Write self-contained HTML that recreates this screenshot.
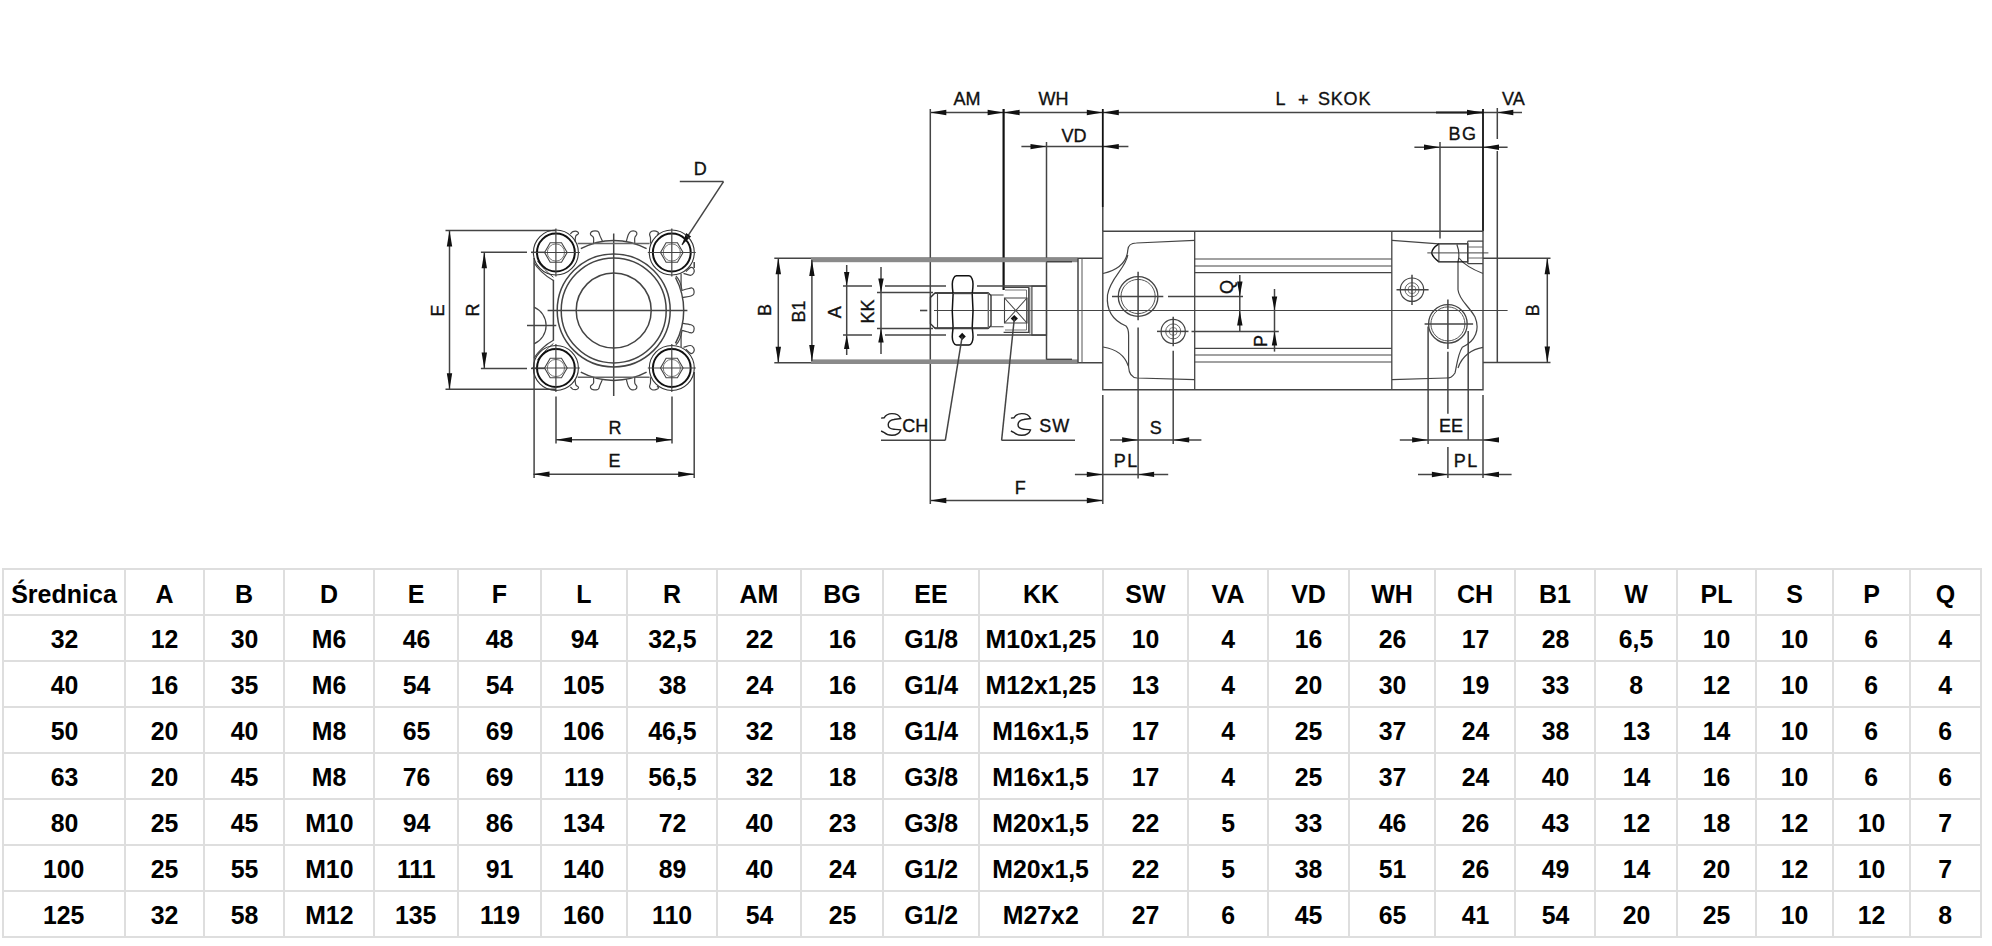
<!DOCTYPE html>
<html><head><meta charset="utf-8">
<style>
html,body{margin:0;padding:0;background:#fff;}
body{width:1992px;height:946px;position:relative;overflow:hidden;font-family:"Liberation Sans",sans-serif;}
.gl{position:absolute;background:#dedede;}
.c{position:absolute;display:flex;align-items:center;justify-content:center;font-weight:bold;font-size:26px;color:#000;white-space:nowrap;box-sizing:border-box;padding-top:2px;}
.c span{display:inline-block;transform:scaleX(0.955);}
.c.h{font-size:25px;padding-top:4px;}
.c.h span{transform:none;}
svg{position:absolute;left:0;top:0;}
svg text{font-family:"Liberation Sans",sans-serif;fill:#111;stroke:#111;stroke-width:0.35px;}
</style></head><body>
<svg width="1992" height="946" viewBox="0 0 1992 946" stroke-linecap="butt">
<line x1="445.5" y1="230.5" x2="556" y2="230.5" stroke="#444" stroke-width="1.5" />
<line x1="445.5" y1="389.3" x2="556" y2="389.3" stroke="#444" stroke-width="1.5" />
<line x1="449.5" y1="230.5" x2="449.5" y2="389.3" stroke="#444" stroke-width="1.5" />
<path d="M449.5,230.5 L452.2,246.5 L446.8,246.5 Z" fill="#111"/>
<path d="M449.5,389.3 L446.8,373.3 L452.2,373.3 Z" fill="#111"/>
<line x1="480.9" y1="252.3" x2="527" y2="252.3" stroke="#444" stroke-width="1.5" />
<line x1="531" y1="252.3" x2="545" y2="252.3" stroke="#444" stroke-width="1.5" />
<line x1="480.9" y1="368.4" x2="527" y2="368.4" stroke="#444" stroke-width="1.5" />
<line x1="531" y1="368.4" x2="545" y2="368.4" stroke="#444" stroke-width="1.5" />
<line x1="484.3" y1="252.3" x2="484.3" y2="368.4" stroke="#444" stroke-width="1.5" />
<path d="M484.3,252.3 L487.0,268.3 L481.6,268.3 Z" fill="#111"/>
<path d="M484.3,368.4 L481.6,352.4 L487.0,352.4 Z" fill="#111"/>
<line x1="534.1" y1="258" x2="534.1" y2="478" stroke="#444" stroke-width="1.5" />
<line x1="694.2" y1="372" x2="694.2" y2="478" stroke="#444" stroke-width="1.5" />
<line x1="694.2" y1="262" x2="694.2" y2="268" stroke="#444" stroke-width="1.5" />
<line x1="556" y1="396.6" x2="556" y2="443.6" stroke="#444" stroke-width="1.5" />
<line x1="672" y1="396.6" x2="672" y2="443.6" stroke="#444" stroke-width="1.5" />
<line x1="556" y1="439.8" x2="672" y2="439.8" stroke="#444" stroke-width="1.5" />
<path d="M556.0,439.8 L572.0,437.1 L572.0,442.5 Z" fill="#111"/>
<path d="M672.0,439.8 L656.0,442.5 L656.0,437.1 Z" fill="#111"/>
<line x1="533.5" y1="474.3" x2="694.2" y2="474.3" stroke="#444" stroke-width="1.5" />
<path d="M533.5,474.3 L549.5,471.6 L549.5,477.0 Z" fill="#111"/>
<path d="M694.2,474.3 L678.2,477.0 L678.2,471.6 Z" fill="#111"/>
<line x1="679.8" y1="181.6" x2="723.5" y2="181.6" stroke="#444" stroke-width="1.5" />
<line x1="723.5" y1="181.6" x2="682" y2="244.8" stroke="#444" stroke-width="1.5" />
<path d="M682.0,244.8 L686.1,233.1 L691.1,236.5 Z" fill="#111"/>
<circle cx="613.7" cy="310.4" r="37.5" fill="none" stroke="#444" stroke-width="1.5"/>
<circle cx="613.7" cy="310.4" r="52.5" fill="none" stroke="#444" stroke-width="1.5"/>
<circle cx="613.7" cy="310.4" r="56.5" fill="none" stroke="#444" stroke-width="1.5"/>
<path d="M646.6,248.6 A70,70 0 0 0 580.8,248.6" fill="none" stroke="#444" stroke-width="1.5"/>
<path d="M580.8,372.2 A70,70 0 0 0 646.6,372.2" fill="none" stroke="#444" stroke-width="1.5"/>
<path d="M675.5,343.3 A70,70 0 0 0 675.5,277.5" fill="none" stroke="#444" stroke-width="1.5"/>
<line x1="613.7" y1="233.5" x2="613.7" y2="396" stroke="#444" stroke-width="1.5" />
<line x1="547.6" y1="310.4" x2="687.4" y2="310.4" stroke="#444" stroke-width="1.5" />
<line x1="577.7" y1="243.5" x2="649.6" y2="243.5" stroke="#666" stroke-width="1.5" />
<line x1="577.7" y1="377.3" x2="649.6" y2="377.3" stroke="#666" stroke-width="1.5" />
<path d="M575.0,241.5 C575.1,240.6 575.3,237.3 575.8,236.1 C576.3,234.9 577.5,234.7 578.0,234.2 C578.5,233.7 578.7,233.4 578.5,232.9 C578.3,232.4 577.5,231.5 576.6,231.3 C575.7,231.1 574.0,231.2 572.9,231.6 C571.8,232.0 570.7,233.6 570.3,234.0" fill="none" stroke="#444" stroke-width="1.2"/>
<path d="M575.0,379.3 C575.1,380.2 575.3,383.5 575.8,384.7 C576.3,385.9 577.5,386.1 578.0,386.6 C578.5,387.1 578.7,387.4 578.5,387.9 C578.3,388.4 577.5,389.3 576.6,389.5 C575.7,389.7 574.0,389.6 572.9,389.2 C571.8,388.7 570.7,387.2 570.3,386.8" fill="none" stroke="#444" stroke-width="1.2"/>
<path d="M593.5,243.5 C593.5,242.5 594.0,239.1 593.5,237.7 C593.0,236.2 591.0,235.7 590.6,234.8 C590.2,233.9 590.5,233.0 590.9,232.4 C591.3,231.8 592.0,231.3 593.0,231.1 C594.0,230.9 596.2,230.9 597.2,231.1 C598.2,231.3 598.3,231.7 598.8,232.4 C599.2,233.2 599.3,234.1 599.9,235.6 C600.5,237.1 602.1,240.4 602.5,241.4" fill="none" stroke="#444" stroke-width="1.2"/>
<path d="M593.5,377.3 C593.5,378.3 594.0,381.6 593.5,383.1 C593.0,384.5 591.0,385.1 590.6,386.0 C590.2,386.9 590.5,387.8 590.9,388.4 C591.3,389.0 592.0,389.5 593.0,389.7 C594.0,389.9 596.2,389.9 597.2,389.7 C598.2,389.5 598.3,389.1 598.8,388.4 C599.2,387.6 599.3,386.7 599.9,385.2 C600.5,383.7 602.1,380.4 602.5,379.4" fill="none" stroke="#444" stroke-width="1.2"/>
<path d="M626.3,241.6 C626.6,240.4 627.6,236.2 628.4,234.5 C629.2,232.8 630.0,231.8 631.1,231.3 C632.2,230.8 634.3,230.9 635.3,231.3 C636.3,231.8 637.0,232.9 636.9,234.0 C636.8,235.1 635.1,236.1 634.8,237.7 C634.4,239.3 634.8,242.5 634.8,243.5" fill="none" stroke="#444" stroke-width="1.2"/>
<path d="M626.3,379.2 C626.6,380.4 627.6,384.6 628.4,386.3 C629.2,388.0 630.0,389.0 631.1,389.5 C632.2,390.0 634.3,389.9 635.3,389.5 C636.3,389.0 637.0,387.9 636.9,386.8 C636.8,385.7 635.1,384.7 634.8,383.1 C634.4,381.5 634.8,378.3 634.8,377.3" fill="none" stroke="#444" stroke-width="1.2"/>
<path d="M650.5,243.5 C650.5,242.6 650.6,239.6 650.5,238.0 C650.4,236.4 649.4,235.1 649.6,234.0 C649.8,232.9 650.7,231.8 651.7,231.3 C652.8,230.8 654.8,230.8 655.9,231.1 C657.0,231.4 658.4,232.3 658.6,232.9 C658.8,233.5 657.3,234.2 657.0,234.5" fill="none" stroke="#444" stroke-width="1.2"/>
<path d="M650.5,377.3 C650.5,378.2 650.6,381.2 650.5,382.8 C650.4,384.4 649.4,385.7 649.6,386.8 C649.8,387.9 650.7,389.0 651.7,389.5 C652.8,390.0 654.8,390.0 655.9,389.7 C657.0,389.4 658.4,388.5 658.6,387.9 C658.8,387.3 657.3,386.6 657.0,386.3" fill="none" stroke="#444" stroke-width="1.2"/>
<path d="M685.9,271.6 C686.7,270.9 689.4,267.8 690.7,267.4 C692.0,267.0 693.3,268.1 693.8,269.0 C694.3,269.9 694.3,271.6 693.8,272.7 C693.2,273.8 692.2,275.2 690.5,275.3 C688.8,275.4 684.7,273.7 683.5,273.4" fill="none" stroke="#444" stroke-width="1.2"/>
<path d="M685.9,349.2 C686.7,349.9 689.4,353.0 690.7,353.4 C692.0,353.8 693.3,352.7 693.8,351.8 C694.3,350.9 694.3,349.1 693.8,348.1 C693.2,347.0 692.2,345.6 690.5,345.5 C688.8,345.4 684.7,347.1 683.5,347.4" fill="none" stroke="#444" stroke-width="1.2"/>
<path d="M681.1,290.7 C682.4,290.3 687.2,288.9 689.0,288.5 C690.8,288.1 691.2,287.8 692.0,288.0 C692.8,288.2 693.5,289.0 693.8,290.0 C694.1,291.0 694.3,293.0 693.8,294.0 C693.3,295.0 692.9,295.4 691.0,296.0 C689.1,296.6 683.9,297.2 682.5,297.5" fill="none" stroke="#444" stroke-width="1.2"/>
<path d="M681.1,330.1 C682.4,330.5 687.2,331.8 689.0,332.3 C690.8,332.7 691.2,333.0 692.0,332.8 C692.8,332.5 693.5,331.8 693.8,330.8 C694.1,329.8 694.3,327.8 693.8,326.8 C693.3,325.8 692.9,325.4 691.0,324.8 C689.1,324.2 683.9,323.5 682.5,323.3" fill="none" stroke="#444" stroke-width="1.2"/>
<line x1="681.1" y1="273.7" x2="681.1" y2="290.7" stroke="#666" stroke-width="1.5" />
<line x1="681.1" y1="330.1" x2="681.1" y2="347.1" stroke="#666" stroke-width="1.5" />
<path d="M675.9,276 C679,279 681,283 682,290" fill="none" stroke="#444" stroke-width="1.1"/>
<path d="M675.9,344.8 C679,341.8 681,337.8 682,330.8" fill="none" stroke="#444" stroke-width="1.1"/>
<line x1="553.4" y1="279.8" x2="553.4" y2="340.7" stroke="#444" stroke-width="1.5" />
<path d="M534.1,262.7 C537,268 545,276 553.4,280.5" fill="none" stroke="#444" stroke-width="1.2"/>
<path d="M537.5,261 C541,266 547,272 553.4,277.3" fill="none" stroke="#444" stroke-width="1.0"/>
<path d="M534.1,358.1 C537,352.8 545,344.8 553.4,340.3" fill="none" stroke="#444" stroke-width="1.2"/>
<path d="M537.5,359.8 C541,354.8 547,348.8 553.4,343.5" fill="none" stroke="#444" stroke-width="1.0"/>
<path d="M534.1,307.1 A20.1,20.1 0 0 1 534.1,343.9" fill="none" stroke="#444" stroke-width="1.2"/>
<line x1="527" y1="325.5" x2="556.3" y2="325.5" stroke="#444" stroke-width="1.5" />
<circle cx="555.9" cy="252.5" r="18.9" fill="none" stroke="#111" stroke-width="2.0"/>
<circle cx="555.9" cy="252.5" r="22.5" fill="none" stroke="#333" stroke-width="1.1"/>
<polygon points="567.2,252.5 561.5,262.3 550.2,262.3 544.6,252.5 550.2,242.7 561.5,242.7" fill="none" stroke="#444" stroke-width="1.1"/>
<circle cx="555.9" cy="252.5" r="8.6" fill="none" stroke="#777" stroke-width="1.0"/>
<line x1="531.9" y1="252.5" x2="579.9" y2="252.5" stroke="#444" stroke-width="1.2" />
<line x1="555.9" y1="228.5" x2="555.9" y2="276.5" stroke="#444" stroke-width="1.2" />
<circle cx="671.8" cy="252.5" r="18.9" fill="none" stroke="#111" stroke-width="2.0"/>
<circle cx="671.8" cy="252.5" r="22.5" fill="none" stroke="#333" stroke-width="1.1"/>
<polygon points="683.1,252.5 677.4,262.3 666.1,262.3 660.5,252.5 666.1,242.7 677.4,242.7" fill="none" stroke="#444" stroke-width="1.1"/>
<circle cx="671.8" cy="252.5" r="8.6" fill="none" stroke="#777" stroke-width="1.0"/>
<line x1="647.8" y1="252.5" x2="695.8" y2="252.5" stroke="#444" stroke-width="1.2" />
<line x1="671.8" y1="228.5" x2="671.8" y2="276.5" stroke="#444" stroke-width="1.2" />
<circle cx="555.9" cy="368" r="18.9" fill="none" stroke="#111" stroke-width="2.0"/>
<circle cx="555.9" cy="368" r="22.5" fill="none" stroke="#333" stroke-width="1.1"/>
<polygon points="567.2,368.0 561.5,377.8 550.2,377.8 544.6,368.0 550.2,358.2 561.5,358.2" fill="none" stroke="#444" stroke-width="1.1"/>
<circle cx="555.9" cy="368" r="8.6" fill="none" stroke="#777" stroke-width="1.0"/>
<line x1="531.9" y1="368" x2="579.9" y2="368" stroke="#444" stroke-width="1.2" />
<line x1="555.9" y1="344" x2="555.9" y2="392" stroke="#444" stroke-width="1.2" />
<circle cx="671.8" cy="368" r="18.9" fill="none" stroke="#111" stroke-width="2.0"/>
<circle cx="671.8" cy="368" r="22.5" fill="none" stroke="#333" stroke-width="1.1"/>
<polygon points="683.1,368.0 677.4,377.8 666.1,377.8 660.5,368.0 666.1,358.2 677.4,358.2" fill="none" stroke="#444" stroke-width="1.1"/>
<circle cx="671.8" cy="368" r="8.6" fill="none" stroke="#777" stroke-width="1.0"/>
<line x1="647.8" y1="368" x2="695.8" y2="368" stroke="#444" stroke-width="1.2" />
<line x1="671.8" y1="344" x2="671.8" y2="392" stroke="#444" stroke-width="1.2" />
<line x1="930.3" y1="112.5" x2="1522" y2="112.5" stroke="#444" stroke-width="1.5" />
<line x1="1436" y1="112.5" x2="1483" y2="112.5" stroke="#222" stroke-width="2.2" />
<path d="M930.3,112.5 L946.3,109.8 L946.3,115.2 Z" fill="#111"/>
<path d="M1003.6,112.5 L987.6,115.2 L987.6,109.8 Z" fill="#111"/>
<path d="M1003.6,112.5 L1019.6,109.8 L1019.6,115.2 Z" fill="#111"/>
<path d="M1102.8,112.5 L1086.8,115.2 L1086.8,109.8 Z" fill="#111"/>
<path d="M1102.8,112.5 L1118.8,109.8 L1118.8,115.2 Z" fill="#111"/>
<path d="M1483.0,112.5 L1467.0,115.2 L1467.0,109.8 Z" fill="#111"/>
<path d="M1497.3,112.5 L1513.3,109.8 L1513.3,115.2 Z" fill="#111"/>
<line x1="1021.4" y1="146.6" x2="1128.4" y2="146.6" stroke="#444" stroke-width="1.5" />
<path d="M1046.5,146.6 L1030.5,149.3 L1030.5,143.9 Z" fill="#111"/>
<path d="M1102.8,146.6 L1118.8,143.9 L1118.8,149.3 Z" fill="#111"/>
<line x1="1414.4" y1="147.2" x2="1507.6" y2="147.2" stroke="#444" stroke-width="1.5" />
<path d="M1440.0,147.2 L1424.0,149.9 L1424.0,144.5 Z" fill="#111"/>
<path d="M1483.0,147.2 L1499.0,144.5 L1499.0,149.9 Z" fill="#111"/>
<line x1="930.3" y1="109" x2="930.3" y2="504" stroke="#444" stroke-width="1.5" />
<line x1="1003.6" y1="109" x2="1003.6" y2="290" stroke="#111" stroke-width="2.2" />
<line x1="1046.5" y1="142" x2="1046.5" y2="363" stroke="#444" stroke-width="1.5" />
<line x1="1102.8" y1="109" x2="1102.8" y2="207" stroke="#111" stroke-width="1.8" />
<line x1="1102.8" y1="207" x2="1102.8" y2="231" stroke="#444" stroke-width="1.5" />
<line x1="1102.8" y1="395" x2="1102.8" y2="504" stroke="#444" stroke-width="1.5" />
<line x1="1440" y1="142" x2="1440" y2="238.5" stroke="#444" stroke-width="1.5" />
<line x1="1483" y1="109" x2="1483" y2="231" stroke="#111" stroke-width="1.8" />
<line x1="1483" y1="395" x2="1483" y2="478" stroke="#444" stroke-width="1.5" />
<line x1="1497.3" y1="108" x2="1497.3" y2="139" stroke="#444" stroke-width="1.5" />
<line x1="1497.3" y1="151" x2="1497.3" y2="362.5" stroke="#444" stroke-width="1.5" />
<line x1="774.3" y1="258.3" x2="1102.8" y2="258.3" stroke="#444" stroke-width="1.5" />
<line x1="774.3" y1="362.8" x2="1102.8" y2="362.8" stroke="#444" stroke-width="1.5" />
<rect x="811" y="257.6" width="267" height="4.6" fill="#8a8a8a"/>
<rect x="811" y="359.4" width="267" height="4.6" fill="#8a8a8a"/>
<line x1="778.3" y1="258.3" x2="778.3" y2="362.8" stroke="#444" stroke-width="1.5" />
<path d="M778.3,258.3 L781.0,274.3 L775.6,274.3 Z" fill="#111"/>
<path d="M778.3,362.8 L775.6,346.8 L781.0,346.8 Z" fill="#111"/>
<line x1="811.9" y1="260" x2="811.9" y2="361" stroke="#444" stroke-width="1.5" />
<path d="M811.9,260.0 L814.6,276.0 L809.2,276.0 Z" fill="#111"/>
<path d="M811.9,361.0 L809.2,345.0 L814.6,345.0 Z" fill="#111"/>
<line x1="846.7" y1="265" x2="846.7" y2="355" stroke="#444" stroke-width="1.5" />
<path d="M846.7,286.0 L844.0,272.0 L849.4,272.0 Z" fill="#111"/>
<path d="M846.7,335.0 L849.4,349.0 L844.0,349.0 Z" fill="#111"/>
<line x1="881" y1="267" x2="881" y2="354" stroke="#444" stroke-width="1.5" />
<path d="M881.0,292.4 L878.3,278.4 L883.7,278.4 Z" fill="#111"/>
<path d="M881.0,328.6 L883.7,342.6 L878.3,342.6 Z" fill="#111"/>
<line x1="843" y1="286" x2="872" y2="286" stroke="#444" stroke-width="1.5" />
<line x1="885" y1="286" x2="946" y2="286" stroke="#444" stroke-width="1.5" />
<line x1="977" y1="286" x2="1046.5" y2="286" stroke="#444" stroke-width="1.5" />
<line x1="843" y1="335" x2="872" y2="335" stroke="#444" stroke-width="1.5" />
<line x1="885" y1="335" x2="946" y2="335" stroke="#444" stroke-width="1.5" />
<line x1="977" y1="335" x2="1046.5" y2="335" stroke="#444" stroke-width="1.5" />
<line x1="877" y1="292.4" x2="933" y2="292.4" stroke="#444" stroke-width="1.5" />
<line x1="877" y1="328.6" x2="933" y2="328.6" stroke="#444" stroke-width="1.5" />
<line x1="920" y1="310.5" x2="927.3" y2="310.5" stroke="#444" stroke-width="1.6" />
<line x1="934" y1="310.5" x2="1507.6" y2="310.5" stroke="#444" stroke-width="1.2" />
<path d="M935,292.9 L988.3,292.9 L991,295.5 L991,325.8 L988.3,328.3 L935,328.3 L930.5,323.8 L930.5,297.4 Z" fill="none" stroke="#333" stroke-width="1.4"/>
<line x1="935" y1="292.9" x2="988.3" y2="292.9" stroke="#444" stroke-width="2.0" />
<line x1="935" y1="328.3" x2="988.3" y2="328.3" stroke="#444" stroke-width="2.0" />
<line x1="937.5" y1="292.9" x2="937.5" y2="328.3" stroke="#444" stroke-width="1.1" />
<line x1="988.3" y1="292.9" x2="988.3" y2="328.3" stroke="#666" stroke-width="1.4" />
<path d="M956.5,275.8 L969,275.8 C971.5,276 973,280 973,284 C973,288 972.5,291 972.2,293.6 C973.3,305 973.3,316 972.2,327.9 C972.5,330.5 973,333 973,337 C973,341 971.5,345 969,345 L956.5,345 C954,345 952.3,341 952.3,337 C952.3,333 952.8,330.5 953.1,327.9 C952,316 952,305 953.1,293.6 C952.8,291 952.3,288 952.3,284 C952.3,280 954,276 956.5,275.8 Z" fill="none" stroke="#111" stroke-width="1.5"/>
<line x1="953" y1="293.6" x2="972.5" y2="293.6" stroke="#444" stroke-width="1.2" />
<line x1="953" y1="327.9" x2="972.5" y2="327.9" stroke="#444" stroke-width="1.2" />
<path d="M962.2,332.8 L965.8,336.4 L962.2,340 L958.6,336.4 Z" fill="#111"/>
<path d="M990.4,295 L1003.6,295 M990.4,326.8 L1003.6,326.8" fill="none" stroke="#444" stroke-width="1.1"/>
<path d="M1003.6,287.5 L1028.7,287.5 L1028.7,332.4 L1003.6,332.4" fill="none" stroke="#444" stroke-width="1.2"/>
<path d="M1005,290 L1026.5,290 L1026.5,330 L1005,330" fill="none" stroke="#666" stroke-width="0.9"/>
<path d="M1004.5,298 L1027,298 L1027,323 L1004.5,323 Z" fill="none" stroke="#444" stroke-width="1.1"/>
<line x1="1004.5" y1="298" x2="1027" y2="323" stroke="#444" stroke-width="1.1" />
<line x1="1027" y1="298" x2="1004.5" y2="323" stroke="#444" stroke-width="1.1" />
<path d="M1014.3,314.9 L1017.9,318.5 L1014.3,322.1 L1010.7,318.5 Z" fill="#111"/>
<path d="M1031.9,286.1 L1046.5,286.1 L1046.5,335.1 L1031.9,335.1 Z" fill="none" stroke="#444" stroke-width="1.2"/>
<line x1="1029.8" y1="287.5" x2="1029.8" y2="333.5" stroke="#555" stroke-width="1.0" />
<line x1="1078" y1="258.3" x2="1078" y2="362.8" stroke="#444" stroke-width="1.5" />
<line x1="1082" y1="258.3" x2="1082" y2="362.8" stroke="#555" stroke-width="1.0" />
<line x1="1046.5" y1="261.7" x2="1072" y2="261.7" stroke="#444" stroke-width="1.4" />
<line x1="1046.5" y1="359.3" x2="1072" y2="359.3" stroke="#444" stroke-width="1.4" />
<line x1="962.2" y1="336.4" x2="945.3" y2="440.3" stroke="#444" stroke-width="1.5" />
<line x1="945.3" y1="440.3" x2="881" y2="440.3" stroke="#444" stroke-width="1.5" />
<line x1="1014.3" y1="318.5" x2="1001.6" y2="440.3" stroke="#444" stroke-width="1.5" />
<line x1="1001.6" y1="440.3" x2="1075" y2="440.3" stroke="#444" stroke-width="1.5" />
<path d="M881.1,418.1 L884.1,417.8 C886.0,414.5 889.0,413.6 891.9,413.6 C896.0,413.6 899.5,415.5 900.7,418.5 C898.0,419.0 896.0,419.0 893.9,419.5 C890.0,420.2 888.3,422.0 888.2,424.6 C888.1,427.0 890.0,428.8 893.9,429.2 C896.0,429.4 898.5,429.5 900.7,430.0 C899.5,433.5 896.0,435.3 891.9,435.3 C888.5,435.3 885.5,433.8 883.8,432.3 L881.1,431.0 " fill="none" stroke="#222" stroke-width="1.4"/>
<path d="M1010.9,418.1 L1013.9,417.8 C1015.8,414.5 1018.8,413.6 1021.7,413.6 C1025.8,413.6 1029.3,415.5 1030.5,418.5 C1027.8,419.0 1025.8,419.0 1023.7,419.5 C1019.8,420.2 1018.1,422.0 1018.0,424.6 C1017.9,427.0 1019.8,428.8 1023.7,429.2 C1025.8,429.4 1028.3,429.5 1030.5,430.0 C1029.3,433.5 1025.8,435.3 1021.7,435.3 C1018.3,435.3 1015.3,433.8 1013.6,432.3 L1010.9,431.0 " fill="none" stroke="#222" stroke-width="1.4"/>
<path d="M1102.8,231.3 L1483,231.3 L1483,389.8 L1102.8,389.8 Z" fill="none" stroke="#444" stroke-width="1.4"/>
<line x1="1194.7" y1="231.3" x2="1194.7" y2="389.8" stroke="#444" stroke-width="1.3" />
<line x1="1391.8" y1="231.3" x2="1391.8" y2="389.8" stroke="#444" stroke-width="1.3" />
<line x1="1194.7" y1="259.0" x2="1391.8" y2="259.0" stroke="#444" stroke-width="1.2" />
<line x1="1194.7" y1="266.0" x2="1391.8" y2="266.0" stroke="#444" stroke-width="1.2" />
<line x1="1194.7" y1="272.6" x2="1391.8" y2="272.6" stroke="#444" stroke-width="1.2" />
<line x1="1194.7" y1="348.4" x2="1391.8" y2="348.4" stroke="#444" stroke-width="1.2" />
<line x1="1194.7" y1="355.0" x2="1391.8" y2="355.0" stroke="#444" stroke-width="1.2" />
<line x1="1194.7" y1="362.0" x2="1391.8" y2="362.0" stroke="#444" stroke-width="1.2" />
<path d="M1103,273.5 C1118,270 1127,262 1127.8,250 C1128.2,245 1131,243 1136.3,243 L1194.7,240.3" fill="none" stroke="#444" stroke-width="1.2"/>
<path d="M1127.8,255 C1126,268 1110,278 1107.5,295 C1106,312 1114,321 1126,326 C1128,328 1128.6,331 1128.6,335 L1128.6,367 C1129,374 1132,377.5 1137,378 L1194.7,379.6" fill="none" stroke="#444" stroke-width="1.2"/>
<path d="M1103,347 C1116,349 1125,356 1128.3,366" fill="none" stroke="#444" stroke-width="1.2"/>
<circle cx="1138.1" cy="296.5" r="19.8" fill="none" stroke="#444" stroke-width="1.3"/>
<circle cx="1138.1" cy="296.5" r="17.1" fill="none" stroke="#555" stroke-width="1.0"/>
<line x1="1112" y1="296.5" x2="1163.3" y2="296.5" stroke="#444" stroke-width="1.5" />
<line x1="1168" y1="296.5" x2="1243" y2="296.5" stroke="#444" stroke-width="1.5" />
<line x1="1138.1" y1="271.7" x2="1138.1" y2="320.3" stroke="#444" stroke-width="1.5" />
<line x1="1138.1" y1="327.4" x2="1138.1" y2="478.4" stroke="#444" stroke-width="1.5" />
<circle cx="1173.2" cy="331.4" r="12.1" fill="none" stroke="#444" stroke-width="1.2"/>
<circle cx="1173.2" cy="331.4" r="7.5" fill="none" stroke="#555" stroke-width="0.9"/>
<circle cx="1173.2" cy="331.4" r="4" fill="none" stroke="#777" stroke-width="0.9"/>
<line x1="1157" y1="331.4" x2="1188.5" y2="331.4" stroke="#444" stroke-width="1.5" />
<line x1="1191.5" y1="331.4" x2="1278.8" y2="331.4" stroke="#444" stroke-width="1.5" />
<line x1="1173.2" y1="316.7" x2="1173.2" y2="346.3" stroke="#444" stroke-width="1.5" />
<line x1="1173.2" y1="350.8" x2="1173.2" y2="443.9" stroke="#444" stroke-width="1.5" />
<line x1="1239.8" y1="275" x2="1239.8" y2="331.5" stroke="#444" stroke-width="1.5" />
<path d="M1239.8,296.6 L1237.1,281.6 L1242.5,281.6 Z" fill="#111"/>
<path d="M1239.8,310.5 L1242.5,325.5 L1237.1,325.5 Z" fill="#111"/>
<line x1="1274.5" y1="289" x2="1274.5" y2="351.6" stroke="#444" stroke-width="1.5" />
<path d="M1274.5,310.5 L1271.8,296.5 L1277.2,296.5 Z" fill="#111"/>
<path d="M1274.5,331.5 L1277.2,345.5 L1271.8,345.5 Z" fill="#111"/>
<path d="M1392,240.3 L1438.9,243.9" fill="none" stroke="#444" stroke-width="1.2"/>
<path d="M1456.9,244.5 C1459,250 1459.5,256 1458,262 L1458,289.7 C1459,300 1469,306 1475,317 C1480,329 1476,341 1462.3,347.3 C1458,354 1457,364 1455,373 C1452,377.5 1450,378 1446,378 L1392,379.6" fill="none" stroke="#444" stroke-width="1.2"/>
<path d="M1459,258 C1465,266 1474,270 1483,273.5" fill="none" stroke="#444" stroke-width="1.2"/>
<path d="M1483,347.3 C1472,349 1462,356 1458,368" fill="none" stroke="#444" stroke-width="1.2"/>
<path d="M1438.9,243.9 L1467.7,243.9 L1467.7,261.9 L1438.9,261.9 C1434,258 1432,255 1431.7,252.9 C1432,250 1434,247 1438.9,243.9 Z" fill="none" stroke="#111" stroke-width="1.4"/>
<line x1="1438.9" y1="243.9" x2="1438.9" y2="261.9" stroke="#444" stroke-width="1.1" />
<path d="M1467.7,241.2 L1483,241.2 M1467.7,263.7 L1483,263.7 M1467.7,241.2 L1467.7,263.7" fill="none" stroke="#444" stroke-width="1.2"/>
<line x1="1468" y1="247" x2="1483" y2="247" stroke="#555" stroke-width="0.9" />
<line x1="1468" y1="258" x2="1483" y2="258" stroke="#555" stroke-width="0.9" />
<line x1="1427.3" y1="252.9" x2="1488.4" y2="252.9" stroke="#444" stroke-width="1.0" />
<circle cx="1412" cy="289.7" r="11.7" fill="none" stroke="#444" stroke-width="1.2"/>
<circle cx="1412" cy="289.7" r="7" fill="none" stroke="#555" stroke-width="0.9"/>
<circle cx="1412" cy="289.7" r="4" fill="none" stroke="#777" stroke-width="0.9"/>
<line x1="1396.5" y1="289.7" x2="1428.6" y2="289.7" stroke="#444" stroke-width="1.5" />
<line x1="1412" y1="274.7" x2="1412" y2="305" stroke="#444" stroke-width="1.5" />
<circle cx="1447.9" cy="323.9" r="19.3" fill="none" stroke="#444" stroke-width="1.3"/>
<circle cx="1447.9" cy="323.9" r="17" fill="none" stroke="#555" stroke-width="1.0"/>
<line x1="1424.6" y1="323.9" x2="1473.1" y2="323.9" stroke="#444" stroke-width="1.5" />
<line x1="1447.9" y1="299.6" x2="1447.9" y2="349" stroke="#444" stroke-width="1.5" />
<line x1="1447.9" y1="351.8" x2="1447.9" y2="413.7" stroke="#444" stroke-width="1.5" />
<line x1="1447.9" y1="447" x2="1447.9" y2="478" stroke="#444" stroke-width="1.5" />
<line x1="1428.1" y1="326.6" x2="1428.1" y2="443.9" stroke="#444" stroke-width="1.5" />
<line x1="1468.2" y1="331" x2="1468.2" y2="440" stroke="#444" stroke-width="1.5" />
<line x1="1483" y1="258.3" x2="1550.5" y2="258.3" stroke="#444" stroke-width="1.5" />
<line x1="1483" y1="362.5" x2="1550.5" y2="362.5" stroke="#444" stroke-width="1.5" />
<line x1="1547.3" y1="258.3" x2="1547.3" y2="362.5" stroke="#444" stroke-width="1.5" />
<path d="M1547.3,258.3 L1550.0,274.3 L1544.6,274.3 Z" fill="#111"/>
<path d="M1547.3,362.5 L1544.6,346.5 L1550.0,346.5 Z" fill="#111"/>
<line x1="930.3" y1="500.5" x2="1103" y2="500.5" stroke="#444" stroke-width="1.5" />
<path d="M930.3,500.5 L946.3,497.8 L946.3,503.2 Z" fill="#111"/>
<path d="M1102.8,500.5 L1086.8,503.2 L1086.8,497.8 Z" fill="#111"/>
<line x1="1074.9" y1="474.4" x2="1168.2" y2="474.4" stroke="#444" stroke-width="1.5" />
<path d="M1102.8,474.4 L1086.8,477.1 L1086.8,471.7 Z" fill="#111"/>
<path d="M1138.1,474.4 L1154.1,471.7 L1154.1,477.1 Z" fill="#111"/>
<line x1="1110" y1="439.9" x2="1201.4" y2="439.9" stroke="#444" stroke-width="1.5" />
<path d="M1138.1,439.9 L1122.1,442.6 L1122.1,437.2 Z" fill="#111"/>
<path d="M1173.2,439.9 L1189.2,437.2 L1189.2,442.6 Z" fill="#111"/>
<line x1="1399.8" y1="439.9" x2="1498.1" y2="439.9" stroke="#444" stroke-width="1.5" />
<path d="M1428.1,439.9 L1412.1,442.6 L1412.1,437.2 Z" fill="#111"/>
<path d="M1483.0,439.9 L1499.0,437.2 L1499.0,442.6 Z" fill="#111"/>
<line x1="1418" y1="474.5" x2="1511.6" y2="474.5" stroke="#444" stroke-width="1.5" />
<path d="M1447.9,474.5 L1431.9,477.2 L1431.9,471.8 Z" fill="#111"/>
<path d="M1483.0,474.5 L1499.0,471.8 L1499.0,477.2 Z" fill="#111"/>
<text x="953.5" y="105.3" font-size="18">AM</text>
<text x="1038.5" y="105.3" font-size="18">WH</text>
<text x="1061.5" y="141.6" font-size="18">VD</text>
<text x="1275.6" y="104.5" font-size="18">L</text>
<text x="1298.0" y="105.5" font-size="18">+</text>
<text x="1318.0" y="104.5" font-size="18" letter-spacing="0.8">SKOK</text>
<text x="1502.1" y="104.5" font-size="18">VA</text>
<text x="1448.6" y="139.5" font-size="18" letter-spacing="1.5">BG</text>
<text x="693.8" y="175.1" font-size="18">D</text>
<text x="1014.7" y="494.2" font-size="18">F</text>
<text x="1113.7" y="467.1" font-size="18" letter-spacing="1.6">PL</text>
<text x="1149.7" y="433.6" font-size="18">S</text>
<text x="1438.9" y="431.7" font-size="18">EE</text>
<text x="1453.7" y="466.6" font-size="18" letter-spacing="1.6">PL</text>
<text x="902.2" y="431.9" font-size="18">CH</text>
<text x="1039.2" y="431.9" font-size="18" letter-spacing="1.0">SW</text>
<text x="608.5" y="433.7" font-size="18">R</text>
<text x="608.6" y="466.7" font-size="18">E</text>
<text x="0" y="0" transform="translate(443.5,316.4) rotate(-90)" font-size="18">E</text>
<text x="0" y="0" transform="translate(478.7,316.4) rotate(-90)" font-size="18">R</text>
<text x="0" y="0" transform="translate(771.4,316.1) rotate(-90)" font-size="18">B</text>
<text x="0" y="0" transform="translate(804.8,322.4) rotate(-90)" font-size="18">B1</text>
<text x="0" y="0" transform="translate(841.0,318.3) rotate(-90)" font-size="18">A</text>
<text x="0" y="0" transform="translate(874.4,323.4) rotate(-90)" font-size="18">KK</text>
<text x="0" y="0" transform="translate(1539.2,316.2) rotate(-90)" font-size="18">B</text>
<text x="0" y="0" transform="translate(1232.7,294.1) rotate(-90)" font-size="18">Q</text>
<text x="0" y="0" transform="translate(1267.4,347.1) rotate(-90)" font-size="18">P</text>
</svg>
<div class="gl" style="left:2px;top:568px;width:2px;height:370px"></div>
<div class="gl" style="left:124px;top:568px;width:2px;height:370px"></div>
<div class="gl" style="left:203px;top:568px;width:2px;height:370px"></div>
<div class="gl" style="left:283px;top:568px;width:2px;height:370px"></div>
<div class="gl" style="left:373px;top:568px;width:2px;height:370px"></div>
<div class="gl" style="left:457px;top:568px;width:2px;height:370px"></div>
<div class="gl" style="left:540px;top:568px;width:2px;height:370px"></div>
<div class="gl" style="left:626px;top:568px;width:2px;height:370px"></div>
<div class="gl" style="left:716px;top:568px;width:2px;height:370px"></div>
<div class="gl" style="left:800px;top:568px;width:2px;height:370px"></div>
<div class="gl" style="left:882px;top:568px;width:2px;height:370px"></div>
<div class="gl" style="left:978px;top:568px;width:2px;height:370px"></div>
<div class="gl" style="left:1102px;top:568px;width:2px;height:370px"></div>
<div class="gl" style="left:1187px;top:568px;width:2px;height:370px"></div>
<div class="gl" style="left:1267px;top:568px;width:2px;height:370px"></div>
<div class="gl" style="left:1348px;top:568px;width:2px;height:370px"></div>
<div class="gl" style="left:1434px;top:568px;width:2px;height:370px"></div>
<div class="gl" style="left:1514px;top:568px;width:2px;height:370px"></div>
<div class="gl" style="left:1594px;top:568px;width:2px;height:370px"></div>
<div class="gl" style="left:1676px;top:568px;width:2px;height:370px"></div>
<div class="gl" style="left:1755px;top:568px;width:2px;height:370px"></div>
<div class="gl" style="left:1832px;top:568px;width:2px;height:370px"></div>
<div class="gl" style="left:1909px;top:568px;width:2px;height:370px"></div>
<div class="gl" style="left:1980px;top:568px;width:2px;height:370px"></div>
<div class="gl" style="left:2px;top:568px;width:1980px;height:2px"></div>
<div class="gl" style="left:2px;top:614px;width:1980px;height:2px"></div>
<div class="gl" style="left:2px;top:660px;width:1980px;height:2px"></div>
<div class="gl" style="left:2px;top:706px;width:1980px;height:2px"></div>
<div class="gl" style="left:2px;top:752px;width:1980px;height:2px"></div>
<div class="gl" style="left:2px;top:798px;width:1980px;height:2px"></div>
<div class="gl" style="left:2px;top:844px;width:1980px;height:2px"></div>
<div class="gl" style="left:2px;top:890px;width:1980px;height:2px"></div>
<div class="gl" style="left:2px;top:936px;width:1980px;height:2px"></div>
<div class="c h" style="left:4px;top:570px;width:120px;height:44px"><span>Średnica</span></div>
<div class="c h" style="left:126px;top:570px;width:77px;height:44px"><span>A</span></div>
<div class="c h" style="left:205px;top:570px;width:78px;height:44px"><span>B</span></div>
<div class="c h" style="left:285px;top:570px;width:88px;height:44px"><span>D</span></div>
<div class="c h" style="left:375px;top:570px;width:82px;height:44px"><span>E</span></div>
<div class="c h" style="left:459px;top:570px;width:81px;height:44px"><span>F</span></div>
<div class="c h" style="left:542px;top:570px;width:84px;height:44px"><span>L</span></div>
<div class="c h" style="left:628px;top:570px;width:88px;height:44px"><span>R</span></div>
<div class="c h" style="left:718px;top:570px;width:82px;height:44px"><span>AM</span></div>
<div class="c h" style="left:802px;top:570px;width:80px;height:44px"><span>BG</span></div>
<div class="c h" style="left:884px;top:570px;width:94px;height:44px"><span>EE</span></div>
<div class="c h" style="left:980px;top:570px;width:122px;height:44px"><span>KK</span></div>
<div class="c h" style="left:1104px;top:570px;width:83px;height:44px"><span>SW</span></div>
<div class="c h" style="left:1189px;top:570px;width:78px;height:44px"><span>VA</span></div>
<div class="c h" style="left:1269px;top:570px;width:79px;height:44px"><span>VD</span></div>
<div class="c h" style="left:1350px;top:570px;width:84px;height:44px"><span>WH</span></div>
<div class="c h" style="left:1436px;top:570px;width:78px;height:44px"><span>CH</span></div>
<div class="c h" style="left:1516px;top:570px;width:78px;height:44px"><span>B1</span></div>
<div class="c h" style="left:1596px;top:570px;width:80px;height:44px"><span>W</span></div>
<div class="c h" style="left:1678px;top:570px;width:77px;height:44px"><span>PL</span></div>
<div class="c h" style="left:1757px;top:570px;width:75px;height:44px"><span>S</span></div>
<div class="c h" style="left:1834px;top:570px;width:75px;height:44px"><span>P</span></div>
<div class="c h" style="left:1911px;top:570px;width:69px;height:44px"><span>Q</span></div>
<div class="c" style="left:4px;top:616px;width:120px;height:44px"><span>32</span></div>
<div class="c" style="left:126px;top:616px;width:77px;height:44px"><span>12</span></div>
<div class="c" style="left:205px;top:616px;width:78px;height:44px"><span>30</span></div>
<div class="c" style="left:285px;top:616px;width:88px;height:44px"><span>M6</span></div>
<div class="c" style="left:375px;top:616px;width:82px;height:44px"><span>46</span></div>
<div class="c" style="left:459px;top:616px;width:81px;height:44px"><span>48</span></div>
<div class="c" style="left:542px;top:616px;width:84px;height:44px"><span>94</span></div>
<div class="c" style="left:628px;top:616px;width:88px;height:44px"><span>32,5</span></div>
<div class="c" style="left:718px;top:616px;width:82px;height:44px"><span>22</span></div>
<div class="c" style="left:802px;top:616px;width:80px;height:44px"><span>16</span></div>
<div class="c" style="left:884px;top:616px;width:94px;height:44px"><span>G1/8</span></div>
<div class="c" style="left:980px;top:616px;width:122px;height:44px"><span>M10x1,25</span></div>
<div class="c" style="left:1104px;top:616px;width:83px;height:44px"><span>10</span></div>
<div class="c" style="left:1189px;top:616px;width:78px;height:44px"><span>4</span></div>
<div class="c" style="left:1269px;top:616px;width:79px;height:44px"><span>16</span></div>
<div class="c" style="left:1350px;top:616px;width:84px;height:44px"><span>26</span></div>
<div class="c" style="left:1436px;top:616px;width:78px;height:44px"><span>17</span></div>
<div class="c" style="left:1516px;top:616px;width:78px;height:44px"><span>28</span></div>
<div class="c" style="left:1596px;top:616px;width:80px;height:44px"><span>6,5</span></div>
<div class="c" style="left:1678px;top:616px;width:77px;height:44px"><span>10</span></div>
<div class="c" style="left:1757px;top:616px;width:75px;height:44px"><span>10</span></div>
<div class="c" style="left:1834px;top:616px;width:75px;height:44px"><span>6</span></div>
<div class="c" style="left:1911px;top:616px;width:69px;height:44px"><span>4</span></div>
<div class="c" style="left:4px;top:662px;width:120px;height:44px"><span>40</span></div>
<div class="c" style="left:126px;top:662px;width:77px;height:44px"><span>16</span></div>
<div class="c" style="left:205px;top:662px;width:78px;height:44px"><span>35</span></div>
<div class="c" style="left:285px;top:662px;width:88px;height:44px"><span>M6</span></div>
<div class="c" style="left:375px;top:662px;width:82px;height:44px"><span>54</span></div>
<div class="c" style="left:459px;top:662px;width:81px;height:44px"><span>54</span></div>
<div class="c" style="left:542px;top:662px;width:84px;height:44px"><span>105</span></div>
<div class="c" style="left:628px;top:662px;width:88px;height:44px"><span>38</span></div>
<div class="c" style="left:718px;top:662px;width:82px;height:44px"><span>24</span></div>
<div class="c" style="left:802px;top:662px;width:80px;height:44px"><span>16</span></div>
<div class="c" style="left:884px;top:662px;width:94px;height:44px"><span>G1/4</span></div>
<div class="c" style="left:980px;top:662px;width:122px;height:44px"><span>M12x1,25</span></div>
<div class="c" style="left:1104px;top:662px;width:83px;height:44px"><span>13</span></div>
<div class="c" style="left:1189px;top:662px;width:78px;height:44px"><span>4</span></div>
<div class="c" style="left:1269px;top:662px;width:79px;height:44px"><span>20</span></div>
<div class="c" style="left:1350px;top:662px;width:84px;height:44px"><span>30</span></div>
<div class="c" style="left:1436px;top:662px;width:78px;height:44px"><span>19</span></div>
<div class="c" style="left:1516px;top:662px;width:78px;height:44px"><span>33</span></div>
<div class="c" style="left:1596px;top:662px;width:80px;height:44px"><span>8</span></div>
<div class="c" style="left:1678px;top:662px;width:77px;height:44px"><span>12</span></div>
<div class="c" style="left:1757px;top:662px;width:75px;height:44px"><span>10</span></div>
<div class="c" style="left:1834px;top:662px;width:75px;height:44px"><span>6</span></div>
<div class="c" style="left:1911px;top:662px;width:69px;height:44px"><span>4</span></div>
<div class="c" style="left:4px;top:708px;width:120px;height:44px"><span>50</span></div>
<div class="c" style="left:126px;top:708px;width:77px;height:44px"><span>20</span></div>
<div class="c" style="left:205px;top:708px;width:78px;height:44px"><span>40</span></div>
<div class="c" style="left:285px;top:708px;width:88px;height:44px"><span>M8</span></div>
<div class="c" style="left:375px;top:708px;width:82px;height:44px"><span>65</span></div>
<div class="c" style="left:459px;top:708px;width:81px;height:44px"><span>69</span></div>
<div class="c" style="left:542px;top:708px;width:84px;height:44px"><span>106</span></div>
<div class="c" style="left:628px;top:708px;width:88px;height:44px"><span>46,5</span></div>
<div class="c" style="left:718px;top:708px;width:82px;height:44px"><span>32</span></div>
<div class="c" style="left:802px;top:708px;width:80px;height:44px"><span>18</span></div>
<div class="c" style="left:884px;top:708px;width:94px;height:44px"><span>G1/4</span></div>
<div class="c" style="left:980px;top:708px;width:122px;height:44px"><span>M16x1,5</span></div>
<div class="c" style="left:1104px;top:708px;width:83px;height:44px"><span>17</span></div>
<div class="c" style="left:1189px;top:708px;width:78px;height:44px"><span>4</span></div>
<div class="c" style="left:1269px;top:708px;width:79px;height:44px"><span>25</span></div>
<div class="c" style="left:1350px;top:708px;width:84px;height:44px"><span>37</span></div>
<div class="c" style="left:1436px;top:708px;width:78px;height:44px"><span>24</span></div>
<div class="c" style="left:1516px;top:708px;width:78px;height:44px"><span>38</span></div>
<div class="c" style="left:1596px;top:708px;width:80px;height:44px"><span>13</span></div>
<div class="c" style="left:1678px;top:708px;width:77px;height:44px"><span>14</span></div>
<div class="c" style="left:1757px;top:708px;width:75px;height:44px"><span>10</span></div>
<div class="c" style="left:1834px;top:708px;width:75px;height:44px"><span>6</span></div>
<div class="c" style="left:1911px;top:708px;width:69px;height:44px"><span>6</span></div>
<div class="c" style="left:4px;top:754px;width:120px;height:44px"><span>63</span></div>
<div class="c" style="left:126px;top:754px;width:77px;height:44px"><span>20</span></div>
<div class="c" style="left:205px;top:754px;width:78px;height:44px"><span>45</span></div>
<div class="c" style="left:285px;top:754px;width:88px;height:44px"><span>M8</span></div>
<div class="c" style="left:375px;top:754px;width:82px;height:44px"><span>76</span></div>
<div class="c" style="left:459px;top:754px;width:81px;height:44px"><span>69</span></div>
<div class="c" style="left:542px;top:754px;width:84px;height:44px"><span>119</span></div>
<div class="c" style="left:628px;top:754px;width:88px;height:44px"><span>56,5</span></div>
<div class="c" style="left:718px;top:754px;width:82px;height:44px"><span>32</span></div>
<div class="c" style="left:802px;top:754px;width:80px;height:44px"><span>18</span></div>
<div class="c" style="left:884px;top:754px;width:94px;height:44px"><span>G3/8</span></div>
<div class="c" style="left:980px;top:754px;width:122px;height:44px"><span>M16x1,5</span></div>
<div class="c" style="left:1104px;top:754px;width:83px;height:44px"><span>17</span></div>
<div class="c" style="left:1189px;top:754px;width:78px;height:44px"><span>4</span></div>
<div class="c" style="left:1269px;top:754px;width:79px;height:44px"><span>25</span></div>
<div class="c" style="left:1350px;top:754px;width:84px;height:44px"><span>37</span></div>
<div class="c" style="left:1436px;top:754px;width:78px;height:44px"><span>24</span></div>
<div class="c" style="left:1516px;top:754px;width:78px;height:44px"><span>40</span></div>
<div class="c" style="left:1596px;top:754px;width:80px;height:44px"><span>14</span></div>
<div class="c" style="left:1678px;top:754px;width:77px;height:44px"><span>16</span></div>
<div class="c" style="left:1757px;top:754px;width:75px;height:44px"><span>10</span></div>
<div class="c" style="left:1834px;top:754px;width:75px;height:44px"><span>6</span></div>
<div class="c" style="left:1911px;top:754px;width:69px;height:44px"><span>6</span></div>
<div class="c" style="left:4px;top:800px;width:120px;height:44px"><span>80</span></div>
<div class="c" style="left:126px;top:800px;width:77px;height:44px"><span>25</span></div>
<div class="c" style="left:205px;top:800px;width:78px;height:44px"><span>45</span></div>
<div class="c" style="left:285px;top:800px;width:88px;height:44px"><span>M10</span></div>
<div class="c" style="left:375px;top:800px;width:82px;height:44px"><span>94</span></div>
<div class="c" style="left:459px;top:800px;width:81px;height:44px"><span>86</span></div>
<div class="c" style="left:542px;top:800px;width:84px;height:44px"><span>134</span></div>
<div class="c" style="left:628px;top:800px;width:88px;height:44px"><span>72</span></div>
<div class="c" style="left:718px;top:800px;width:82px;height:44px"><span>40</span></div>
<div class="c" style="left:802px;top:800px;width:80px;height:44px"><span>23</span></div>
<div class="c" style="left:884px;top:800px;width:94px;height:44px"><span>G3/8</span></div>
<div class="c" style="left:980px;top:800px;width:122px;height:44px"><span>M20x1,5</span></div>
<div class="c" style="left:1104px;top:800px;width:83px;height:44px"><span>22</span></div>
<div class="c" style="left:1189px;top:800px;width:78px;height:44px"><span>5</span></div>
<div class="c" style="left:1269px;top:800px;width:79px;height:44px"><span>33</span></div>
<div class="c" style="left:1350px;top:800px;width:84px;height:44px"><span>46</span></div>
<div class="c" style="left:1436px;top:800px;width:78px;height:44px"><span>26</span></div>
<div class="c" style="left:1516px;top:800px;width:78px;height:44px"><span>43</span></div>
<div class="c" style="left:1596px;top:800px;width:80px;height:44px"><span>12</span></div>
<div class="c" style="left:1678px;top:800px;width:77px;height:44px"><span>18</span></div>
<div class="c" style="left:1757px;top:800px;width:75px;height:44px"><span>12</span></div>
<div class="c" style="left:1834px;top:800px;width:75px;height:44px"><span>10</span></div>
<div class="c" style="left:1911px;top:800px;width:69px;height:44px"><span>7</span></div>
<div class="c" style="left:4px;top:846px;width:120px;height:44px"><span>100</span></div>
<div class="c" style="left:126px;top:846px;width:77px;height:44px"><span>25</span></div>
<div class="c" style="left:205px;top:846px;width:78px;height:44px"><span>55</span></div>
<div class="c" style="left:285px;top:846px;width:88px;height:44px"><span>M10</span></div>
<div class="c" style="left:375px;top:846px;width:82px;height:44px"><span>111</span></div>
<div class="c" style="left:459px;top:846px;width:81px;height:44px"><span>91</span></div>
<div class="c" style="left:542px;top:846px;width:84px;height:44px"><span>140</span></div>
<div class="c" style="left:628px;top:846px;width:88px;height:44px"><span>89</span></div>
<div class="c" style="left:718px;top:846px;width:82px;height:44px"><span>40</span></div>
<div class="c" style="left:802px;top:846px;width:80px;height:44px"><span>24</span></div>
<div class="c" style="left:884px;top:846px;width:94px;height:44px"><span>G1/2</span></div>
<div class="c" style="left:980px;top:846px;width:122px;height:44px"><span>M20x1,5</span></div>
<div class="c" style="left:1104px;top:846px;width:83px;height:44px"><span>22</span></div>
<div class="c" style="left:1189px;top:846px;width:78px;height:44px"><span>5</span></div>
<div class="c" style="left:1269px;top:846px;width:79px;height:44px"><span>38</span></div>
<div class="c" style="left:1350px;top:846px;width:84px;height:44px"><span>51</span></div>
<div class="c" style="left:1436px;top:846px;width:78px;height:44px"><span>26</span></div>
<div class="c" style="left:1516px;top:846px;width:78px;height:44px"><span>49</span></div>
<div class="c" style="left:1596px;top:846px;width:80px;height:44px"><span>14</span></div>
<div class="c" style="left:1678px;top:846px;width:77px;height:44px"><span>20</span></div>
<div class="c" style="left:1757px;top:846px;width:75px;height:44px"><span>12</span></div>
<div class="c" style="left:1834px;top:846px;width:75px;height:44px"><span>10</span></div>
<div class="c" style="left:1911px;top:846px;width:69px;height:44px"><span>7</span></div>
<div class="c" style="left:4px;top:892px;width:120px;height:44px"><span>125</span></div>
<div class="c" style="left:126px;top:892px;width:77px;height:44px"><span>32</span></div>
<div class="c" style="left:205px;top:892px;width:78px;height:44px"><span>58</span></div>
<div class="c" style="left:285px;top:892px;width:88px;height:44px"><span>M12</span></div>
<div class="c" style="left:375px;top:892px;width:82px;height:44px"><span>135</span></div>
<div class="c" style="left:459px;top:892px;width:81px;height:44px"><span>119</span></div>
<div class="c" style="left:542px;top:892px;width:84px;height:44px"><span>160</span></div>
<div class="c" style="left:628px;top:892px;width:88px;height:44px"><span>110</span></div>
<div class="c" style="left:718px;top:892px;width:82px;height:44px"><span>54</span></div>
<div class="c" style="left:802px;top:892px;width:80px;height:44px"><span>25</span></div>
<div class="c" style="left:884px;top:892px;width:94px;height:44px"><span>G1/2</span></div>
<div class="c" style="left:980px;top:892px;width:122px;height:44px"><span>M27x2</span></div>
<div class="c" style="left:1104px;top:892px;width:83px;height:44px"><span>27</span></div>
<div class="c" style="left:1189px;top:892px;width:78px;height:44px"><span>6</span></div>
<div class="c" style="left:1269px;top:892px;width:79px;height:44px"><span>45</span></div>
<div class="c" style="left:1350px;top:892px;width:84px;height:44px"><span>65</span></div>
<div class="c" style="left:1436px;top:892px;width:78px;height:44px"><span>41</span></div>
<div class="c" style="left:1516px;top:892px;width:78px;height:44px"><span>54</span></div>
<div class="c" style="left:1596px;top:892px;width:80px;height:44px"><span>20</span></div>
<div class="c" style="left:1678px;top:892px;width:77px;height:44px"><span>25</span></div>
<div class="c" style="left:1757px;top:892px;width:75px;height:44px"><span>10</span></div>
<div class="c" style="left:1834px;top:892px;width:75px;height:44px"><span>12</span></div>
<div class="c" style="left:1911px;top:892px;width:69px;height:44px"><span>8</span></div>
</body></html>
